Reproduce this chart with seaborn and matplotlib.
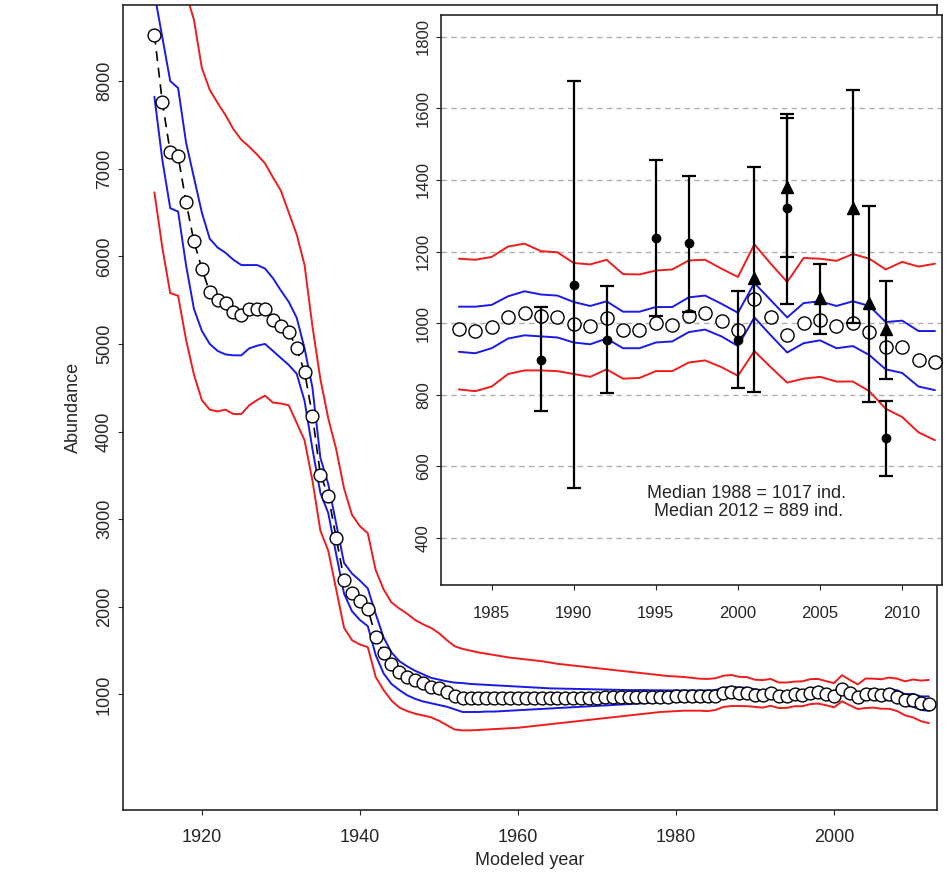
import numpy as np
import pandas as pd
import matplotlib
matplotlib.use("Agg")
import matplotlib.pyplot as plt
import seaborn as sns

# ---- data ----
years = list(range(1914, 2013))

median_early = [8530, 7760, 7190, 7140, 6620, 6170, 5860, 5590, 5500, 5470,
                5360, 5330, 5400, 5400, 5400, 5270, 5200, 5140, 4950, 4680,
                4180, 3510, 3270, 2790, 2310, 2160, 2070, 1980, 1660, 1470,
                1350, 1260, 1200, 1160, 1130, 1090, 1070, 1030, 980, 960,
                955, 955, 955, 955, 955, 955, 955, 955, 955, 958, 960, 960,
                962, 962, 965, 965, 965, 968, 968, 970, 970, 972, 972, 975,
                975, 975, 978, 978, 980]
median_late = [984, 978, 988, 1018, 1027, 1020, 1016, 999, 993, 1013, 982, 982,
               1000, 996, 1021, 1029, 1007, 982, 1067, 1018, 966, 1000, 1009,
               991, 1000, 974, 934, 934, 898, 891]

blue_up_early = [9000, 8500, 8000, 7920, 7300, 6900, 6500, 6200, 6100, 6040,
                 5960, 5900, 5900, 5900, 5860, 5750, 5610, 5480, 5300, 4950,
                 4500, 3700, 3400, 2950, 2500, 2380, 2300, 2210, 1920, 1650,
                 1480, 1380, 1320, 1270, 1230, 1190, 1170, 1150, 1135, 1130,
                 1120, 1115, 1110, 1105, 1100, 1095, 1090, 1085, 1080, 1075,
                 1070, 1068, 1066, 1064, 1062, 1060, 1058, 1056, 1054, 1052,
                 1050, 1050, 1050, 1048, 1048, 1046, 1046, 1046, 1046]
blue_up_late = [1046, 1046, 1051, 1075, 1089, 1080, 1077, 1059, 1048, 1061, 1032,
                1032, 1045, 1045, 1072, 1077, 1054, 1029, 1112, 1064, 1016, 1056,
                1061, 1048, 1061, 1048, 1003, 1007, 978, 978]

blue_lo_early = [7820, 7100, 6550, 6510, 5900, 5400, 5150, 5000, 4920, 4880,
                 4870, 4870, 4950, 4980, 5000, 4920, 4840, 4760, 4660, 4350,
                 3800, 3300, 3070, 2600, 2150, 1950, 1850, 1780, 1450, 1240,
                 1120, 1050, 990, 950, 920, 900, 880, 860, 830, 800,
                 800, 800, 805, 805, 810, 815, 820, 825, 830, 835, 840, 845,
                 850, 855, 860, 865, 870, 875, 880, 885, 890, 895, 900, 905,
                 910, 912, 915, 918, 920]
blue_lo_late = [920, 916, 930, 957, 966, 963, 960, 946, 941, 957, 930, 930, 946,
                949, 975, 982, 963, 936, 1016, 966, 918, 944, 952, 930, 936, 911,
                871, 861, 823, 813]

red_up_early = [11500, 10800, 10100, 9500, 9000, 8700, 8150, 7900, 7750, 7610,
                7450, 7330, 7250, 7160, 7060, 6900, 6750, 6500, 6250, 5900,
                5200, 4600, 4150, 3800, 3350, 3050, 2920, 2840, 2420, 2200,
                2050, 1980, 1920, 1850, 1800, 1760, 1700, 1620, 1550, 1520,
                1500, 1480, 1465, 1450, 1435, 1420, 1410, 1400, 1390, 1380,
                1365, 1350, 1340, 1330, 1320, 1310, 1300, 1290, 1280, 1270,
                1260, 1250, 1240, 1230, 1220, 1210, 1205, 1200, 1190]
red_up_late = [1180, 1177, 1185, 1214, 1222, 1201, 1198, 1168, 1164, 1177, 1137,
               1136, 1147, 1150, 1175, 1177, 1152, 1129, 1220, 1166, 1115, 1182,
               1180, 1174, 1193, 1180, 1150, 1171, 1158, 1166]

red_lo_early = [6730, 6100, 5580, 5550, 5050, 4650, 4360, 4250, 4230, 4250,
                4200, 4200, 4300, 4360, 4410, 4330, 4320, 4300, 4100, 3900,
                3440, 2870, 2640, 2200, 1760, 1620, 1570, 1540, 1200, 1050,
                930, 850, 810, 780, 760, 740, 700, 650, 600, 590,
                590, 595, 600, 605, 610, 615, 620, 630, 640, 650, 660, 670,
                680, 690, 700, 710, 720, 730, 740, 750, 760, 770, 780, 790,
                800, 805, 810, 815, 815]
red_lo_late = [815, 810, 823, 858, 868, 868, 866, 858, 850, 871, 845, 847, 866,
               866, 890, 896, 877, 853, 922, 877, 834, 845, 850, 837, 837, 810,
               761, 738, 695, 673]

# observed estimates (inset)
circ_year = [1988, 1990, 1992, 1995, 1997, 2000, 2003, 2009]
circ_val = [898, 1107, 954, 1239, 1223, 954, 1321, 679]
circ_lo = [756, 539, 804, 1021, 1032, 818, 1185, 572]
circ_hi = [1045, 1675, 1104, 1455, 1412, 1089, 1584, 783]
tri_year = [2001, 2003, 2005, 2007, 2008, 2009]
tri_val = [1125, 1380, 1070, 1321, 1056, 984]
tri_lo = [809, 1054, 970, 1000, 780, 845]
tri_hi = [1437, 1573, 1166, 1650, 1327, 1118]

df = pd.DataFrame({
    "year": years,
    "median": median_early + median_late,
    "blue_up": blue_up_early + blue_up_late,
    "blue_lo": blue_lo_early + blue_lo_late,
    "red_up": red_up_early + red_up_late,
    "red_lo": red_lo_early + red_lo_late,
})
circ = pd.DataFrame({"year": circ_year, "val": circ_val, "lo": circ_lo, "hi": circ_hi})
tri = pd.DataFrame({"year": tri_year, "val": tri_val, "lo": tri_lo, "hi": tri_hi})

sns.set_style("ticks")
plt.rcParams["font.family"] = ["Liberation Sans", "DejaVu Sans"]

fig = plt.figure(figsize=(9.52, 8.73), dpi=100)
ax = fig.add_axes([0.129, 0.072, 0.855, 0.922])


def draw_bands(a, data, lw):
    for col, c in [("red_up", "#ee1c1c"), ("red_lo", "#ee1c1c"),
                   ("blue_up", "#1a1ae6"), ("blue_lo", "#1a1ae6")]:
        sns.lineplot(data=data, x="year", y=col, color=c, lw=lw, ax=a)


draw_bands(ax, df, 1.4)
sns.lineplot(data=df, x="year", y="median", color="black", lw=1.2,
             linestyle=(0, (6, 4)), ax=ax)
sns.scatterplot(data=df, x="year", y="median", s=85, facecolor="white",
                edgecolor="black", linewidth=1.0, zorder=5, ax=ax)
ax.set_xlim(1910, 2013)
ax.set_ylim(-320, 8865)
ax.set_xticks([1920, 1940, 1960, 1980, 2000])
ax.set_yticks(range(1000, 9000, 1000))
ax.tick_params(axis="y", labelrotation=90, labelsize=13)
ax.tick_params(axis="x", labelsize=13, pad=10)
for t in ax.get_yticklabels():
    t.set_va("center")
ax.set_xlabel("Modeled year", fontsize=13, va="center")
ax.xaxis.set_label_coords(0.5, -0.062)
ax.set_ylabel("Abundance", fontsize=13, labelpad=10)
for s in ax.spines.values():
    s.set_linewidth(1.2)

# ---- inset ----
ins = fig.add_axes([0.463, 0.330, 0.526, 0.653])
ins.set_facecolor("white")
for yv in range(400, 2000, 200):
    ins.axhline(yv, color="#b0b0b0", lw=1.0, linestyle=(0, (4, 3)), zorder=0)
late = df[df["year"] >= 1983]
draw_bands(ins, late, 1.4)
sns.scatterplot(data=late, x="year", y="median", s=90, facecolor="white",
                edgecolor="black", linewidth=1.0, zorder=5, ax=ins)
for d, m, ms in [(circ, "o", 6), (tri, "^", 9)]:
    ins.errorbar(d["year"], d["val"], yerr=[d["val"] - d["lo"], d["hi"] - d["val"]],
                 fmt=m, color="black", ms=ms, elinewidth=1.6, capsize=5,
                 capthick=1.6, zorder=6)
ins.set_xlim(1981.9, 2012.4)
ins.set_ylim(269, 1861)
ins.set_xticks(range(1985, 2011, 5))
ins.set_yticks(range(400, 1900, 200))
ins.tick_params(axis="y", labelrotation=90, labelsize=12)
ins.tick_params(axis="x", labelsize=12, pad=12)
for t in ins.get_yticklabels():
    t.set_va("center")
ins.set_xlabel("")
ins.set_ylabel("")
for s in ins.spines.values():
    s.set_linewidth(1.2)
ins.text(2000.5, 500, "Median 1988 = 1017 ind.\n Median 2012 = 889 ind.",
         ha="center", va="center", fontsize=13, linespacing=1.1, zorder=7)

fig.savefig("out.png", dpi=100)
